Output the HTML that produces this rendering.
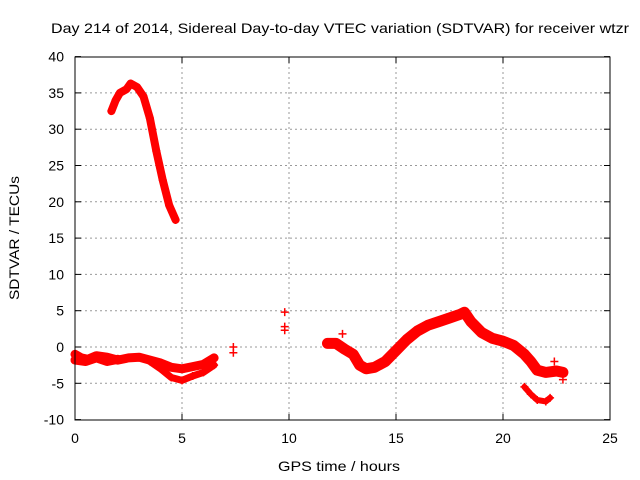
<!DOCTYPE html>
<html><head><meta charset="utf-8"><style>
body{margin:0;background:#fff;}
svg{display:block;font-family:"Liberation Sans",sans-serif;}
</style></head><body>
<svg id="chart" width="640" height="480">
<text x="340" y="33" font-size="14" text-anchor="middle" textLength="578" lengthAdjust="spacingAndGlyphs">Day 214 of 2014, Sidereal Day-to-day VTEC variation (SDTVAR) for receiver wtzr</text>
<text x="339" y="471" font-size="14" text-anchor="middle" textLength="122" lengthAdjust="spacingAndGlyphs">GPS time / hours</text>
<text x="19" y="238" font-size="14" text-anchor="middle" textLength="124" lengthAdjust="spacingAndGlyphs" transform="rotate(-90 19 238)">SDTVAR / TECUs</text>
<g id="grid"></g><g id="marks"></g>
<rect x="75" y="57" width="535" height="363" fill="none" stroke="#000" stroke-width="1"/>
</svg>
<script>
const xTicks=[0,5,10,15,20,25];
const yTicks=[-10,-5,0,5,10,15,20,25,30,35,40];
const topArc=[[1.7,32.5],[1.9,34],[2.1,35],[2.4,35.5],[2.6,36.3],[2.9,35.8],[3.2,34.5],[3.5,31.5],[3.8,27],[4.1,23],[4.4,19.5],[4.7,17.5]];
const bandA=[[0,-1],[0.3,-1.5],[0.6,-1.7],[1,-1.2],[1.5,-1.4],[2,-1.8],[2.5,-1.5],[3,-1.4],[3.5,-1.8],[4,-2.2],[4.5,-2.8],[5,-3],[5.5,-2.7],[6,-2.4],[6.5,-1.5]];
const bandB=[[3.5,-2],[4,-3],[4.5,-4.2],[5,-4.6],[5.5,-4],[6,-3.5],[6.5,-2.5]];
const bandC=[[0,-1.8],[0.5,-2],[1,-1.5],[1.5,-2],[2,-1.7]];
const rightBand=[[11.8,0.5],[12.2,0.5],[12.6,-0.3],[13,-1],[13.3,-2.5],[13.6,-3],[14,-2.8],[14.5,-2],[15,-0.5],[15.5,1],[16,2.2],[16.5,3],[17,3.5],[17.5,4],[18,4.5],[18.2,4.8],[18.5,3.5],[19,2],[19.5,1.2],[20,0.8],[20.5,0.2],[21,-1],[21.3,-2],[21.6,-3.2],[22,-3.5],[22.5,-3.3],[22.8,-3.5]];
const lowerBranch=[[21,-5.5],[21.3,-6.5],[21.6,-7.3],[22,-7.5],[22.2,-7]];
const isolated=[[7.4,0],[7.4,-0.8],[9.8,4.8],[9.8,2.8],[9.8,2.3],[12.5,1.8],[22.4,-2],[22.8,-4.5]];
const NS="http://www.w3.org/2000/svg";
const X=v=>75+v*535/25, Y=v=>347-v*363/50;
const grid=document.getElementById('grid'), marks=document.getElementById('marks');
function mk(t,a,p){const e=document.createElementNS(NS,t);for(const k in a)e.setAttribute(k,a[k]);p.appendChild(e);return e;}
xTicks.forEach(v=>{
 if(v>0&&v<25){const l=mk('line',{x1:X(v),x2:X(v),y1:57,y2:420,stroke:'#999','stroke-dasharray':'2,3'},grid);
 
 }
 mk('line',{x1:X(v),x2:X(v),y1:420,y2:414,stroke:'#000'},grid);
 mk('line',{x1:X(v),x2:X(v),y1:57,y2:63,stroke:'#000'},grid);
 const t=mk('text',{x:X(v),y:443,'font-size':14,'text-anchor':'middle'},grid);t.textContent=v;
 
 
});
yTicks.forEach(v=>{
 if(v>-10&&v<40){const l=mk('line',{x1:75,x2:610,y1:Y(v),y2:Y(v),stroke:'#999','stroke-dasharray':'2,3'},grid);
 
 }
 mk('line',{x1:75,x2:81,y1:Y(v),y2:Y(v),stroke:'#000'},grid);
 mk('line',{x1:604,x2:610,y1:Y(v),y2:Y(v),stroke:'#000'},grid);
 const t=mk('text',{x:64,y:Y(v)+5,'font-size':14,'text-anchor':'end'},grid);t.textContent=v;
 
 
});
function plus(p){const x=X(p[0]),y=Y(p[1]);
 const g=mk('path',{d:`M${x-4},${y}H${x+4}M${x},${y-4}V${y+4}`,stroke:'#f00','stroke-width':1.5},marks);
 
 }
function track(arr,w,name){
 const d=arr.map((p,i)=>(i?'L':'M')+X(p[0]).toFixed(1)+','+Y(p[1]).toFixed(1)).join('');
 const e=mk('path',{d:d,fill:'none',stroke:'#f00','stroke-width':w,'stroke-linejoin':'round','stroke-linecap':'round'},marks);
 
 
 arr.forEach(plus);
}
track(topArc,8,'peak-arc-series');
track(bandA,9,'morning-band-series');
track(bandB,7,'morning-lower-band-series');
track(bandC,9,'early-band-series');
track(rightBand,11,'afternoon-band-series');
track(lowerBranch,6,'evening-lower-series');
isolated.forEach(plus);
</script>
</body></html>
